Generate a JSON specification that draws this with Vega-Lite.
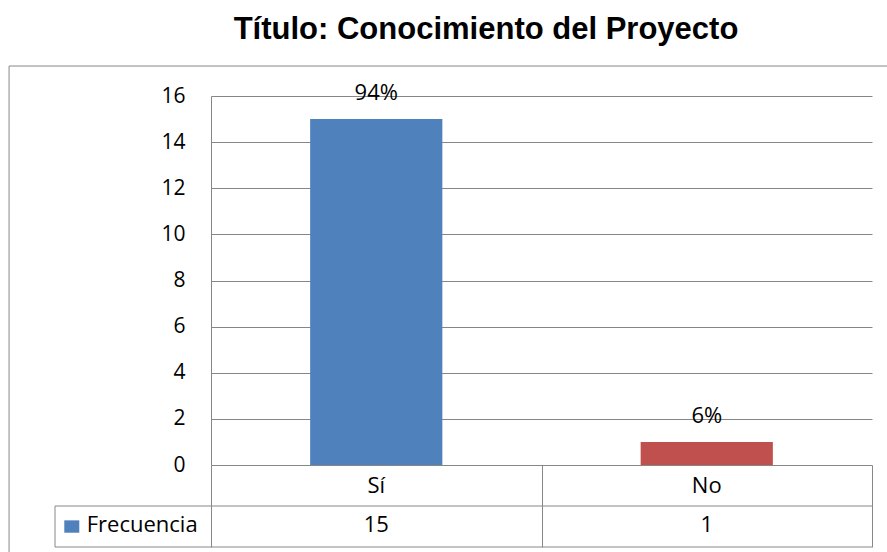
{
  "$schema": "https://vega.github.io/schema/vega-lite/v6.json",
  "width": 661,
  "height": 369,
  "autosize": "none",
  "padding": {"left": 211, "top": 96, "right": 15, "bottom": 87},
  "background": "#ffffff",
  "title": {
    "text": "Título: Conocimiento del Proyecto",
    "font": "Liberation Sans",
    "fontSize": 31,
    "fontWeight": "bold",
    "color": "#000000",
    "anchor": "middle",
    "frame": "group",
    "baseline": "alphabetic",
    "dx": -55.5,
    "offset": -4
  },
  "data": {
    "values": [
      {"respuesta": "Sí", "frecuencia": 15, "porcentaje": "94%"},
      {"respuesta": "No", "frecuencia": 1, "porcentaje": "6%"}
    ]
  },
  "layer": [
    {
      "encoding": {
        "x": {
          "field": "respuesta",
          "type": "nominal",
          "sort": ["Sí", "No"],
          "scale": {"paddingInner": 0.6, "paddingOuter": 0.3},
          "axis": null
        }
      },
      "layer": [
        {
          "mark": {"type": "bar"},
          "encoding": {
            "y": {
              "field": "frecuencia",
              "type": "quantitative",
              "scale": {"domain": [0, 16], "nice": false, "zero": true},
              "axis": {
                "values": [0, 2, 4, 6, 8, 10, 12, 14, 16],
                "title": null,
                "grid": true,
                "gridColor": "#868686",
                "gridWidth": 1,
                "domain": true,
                "domainColor": "#868686",
                "ticks": false,
                "labelPadding": 26,
                "labelFont": "Open Sans",
                "labelFontSize": 21,
                "labelColor": "#000000"
              }
            },
            "color": {
              "field": "respuesta",
              "type": "nominal",
              "scale": {"domain": ["Sí", "No"], "range": ["#4F81BD", "#C0504D"]},
              "legend": null
            }
          }
        },
        {
          "mark": {"type": "text", "baseline": "alphabetic", "dy": -19, "font": "Open Sans", "fontSize": 22, "color": "#000000"},
          "encoding": {
            "y": {"field": "frecuencia", "type": "quantitative", "scale": {"domain": [0, 16], "nice": false, "zero": true}},
            "text": {"field": "porcentaje"}
          }
        },
        {
          "mark": {"type": "text", "baseline": "middle", "font": "Open Sans", "fontSize": 22, "color": "#000000"},
          "encoding": {
            "y": {"datum": -0.91, "type": "quantitative", "scale": {"domain": [0, 16], "nice": false, "zero": true}},
            "text": {"field": "respuesta"}
          }
        },
        {
          "mark": {"type": "text", "baseline": "middle", "font": "Open Sans", "fontSize": 22, "color": "#000000"},
          "encoding": {
            "y": {"datum": -2.58, "type": "quantitative", "scale": {"domain": [0, 16], "nice": false, "zero": true}},
            "text": {"field": "frecuencia", "type": "quantitative"}
          }
        }
      ]
    },
    {
      "data": {"values": [{}]},
      "layer": [
        {
          "mark": {"type": "rect", "fill": "transparent", "stroke": "#888888", "strokeWidth": 1},
          "encoding": {
            "x": {
              "datum": -0.611,
              "type": "quantitative",
              "scale": {"domain": [0, 2], "nice": false, "zero": false},
              "axis": {
                "orient": "bottom",
                "values": [0, 1, 2],
                "tickSize": 82,
                "tickColor": "#888888",
                "tickWidth": 1,
                "labels": false,
                "domain": false,
                "grid": false,
                "title": null
              }
            },
            "x2": {"datum": 2.1},
            "y": {"datum": 17.30, "type": "quantitative", "scale": {"domain": [0, 16], "nice": false, "zero": true}},
            "y2": {"datum": -6}
          }
        },
        {
          "mark": {"type": "rule", "color": "#888888", "strokeWidth": 1},
          "encoding": {
            "x": {"datum": -0.472, "type": "quantitative", "scale": {"domain": [0, 2], "nice": false, "zero": false}},
            "x2": {"datum": 2},
            "y": {"datum": -1.778, "type": "quantitative", "scale": {"domain": [0, 16], "nice": false, "zero": true}}
          }
        },
        {
          "mark": {"type": "rule", "color": "#888888", "strokeWidth": 1},
          "encoding": {
            "x": {"datum": -0.472, "type": "quantitative", "scale": {"domain": [0, 2], "nice": false, "zero": false}},
            "x2": {"datum": 2},
            "y": {"datum": -3.556, "type": "quantitative", "scale": {"domain": [0, 16], "nice": false, "zero": true}}
          }
        },
        {
          "mark": {"type": "rule", "color": "#888888", "strokeWidth": 1},
          "encoding": {
            "x": {"datum": -0.472, "type": "quantitative", "scale": {"domain": [0, 2], "nice": false, "zero": false}},
            "y": {"datum": -1.778, "type": "quantitative", "scale": {"domain": [0, 16], "nice": false, "zero": true}},
            "y2": {"datum": -3.556}
          }
        },
        {
          "mark": {"type": "rect", "fill": "#4F81BD"},
          "encoding": {
            "x": {"datum": -0.4439, "type": "quantitative", "scale": {"domain": [0, 2], "nice": false, "zero": false}},
            "x2": {"datum": -0.3985},
            "y": {"datum": -2.40, "type": "quantitative", "scale": {"domain": [0, 16], "nice": false, "zero": true}},
            "y2": {"datum": -2.936}
          }
        },
        {
          "mark": {"type": "text", "align": "left", "baseline": "middle", "font": "Open Sans", "fontSize": 22, "color": "#000000", "text": "Frecuencia"},
          "encoding": {
            "x": {"datum": -0.376, "type": "quantitative", "scale": {"domain": [0, 2], "nice": false, "zero": false}},
            "y": {"datum": -2.58, "type": "quantitative", "scale": {"domain": [0, 16], "nice": false, "zero": true}}
          }
        }
      ]
    }
  ],
  "resolve": {"scale": {"x": "independent"}, "axis": {"x": "independent"}},
  "config": {"view": {"stroke": null}}
}
